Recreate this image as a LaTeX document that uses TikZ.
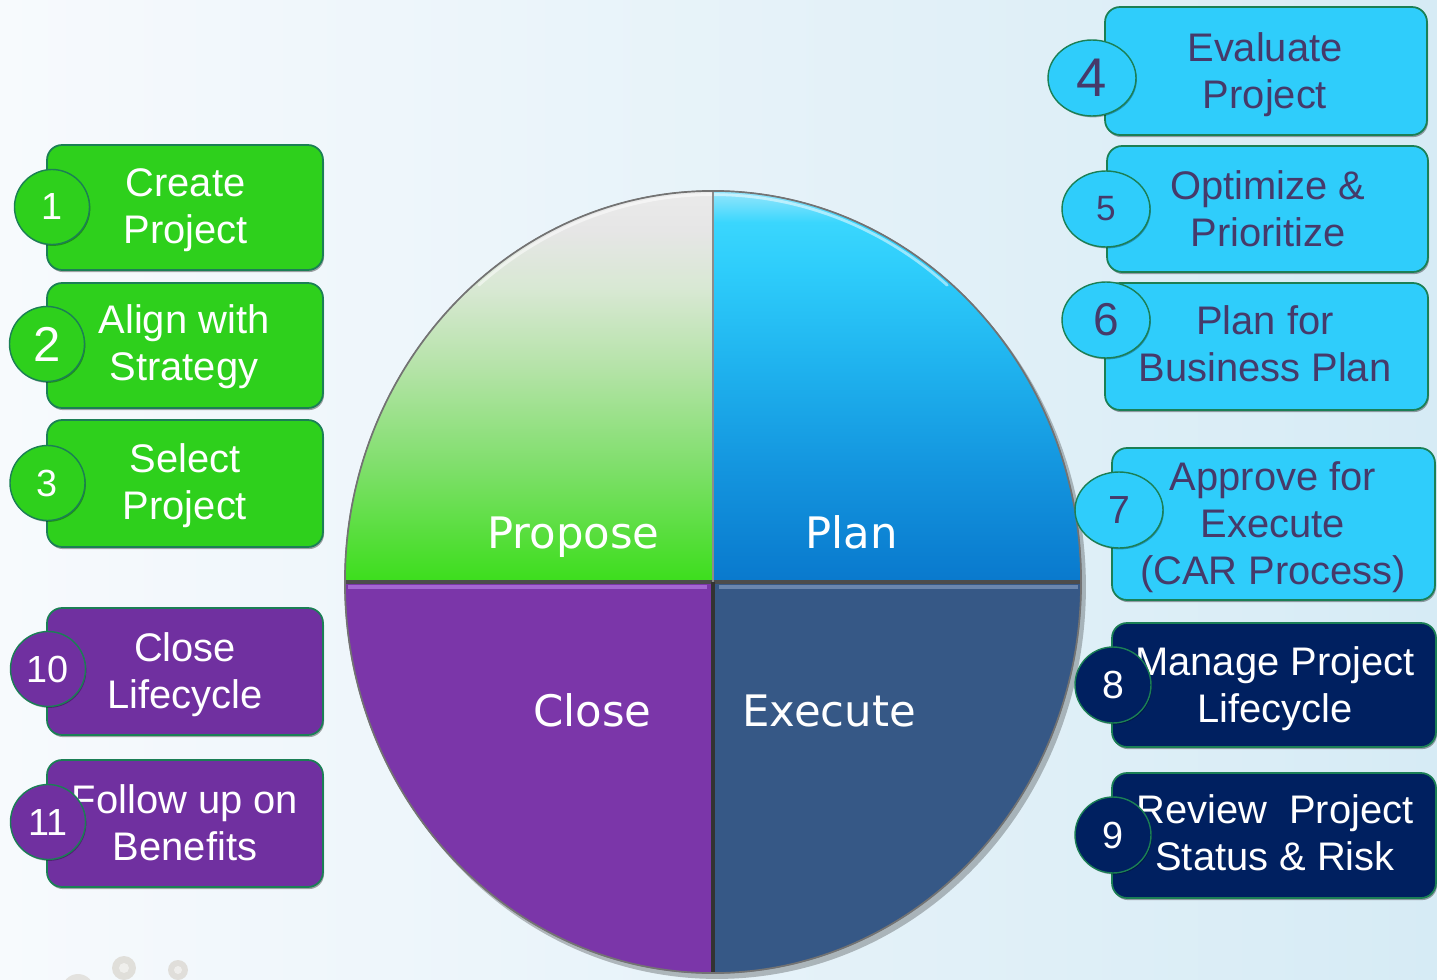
\documentclass[tikz,border=0pt]{standalone}
\usepackage{fontspec}
\setmainfont{Liberation Sans}
\newfontfamily\segfont{DejaVu Sans}
\usetikzlibrary{shapes.geometric,shadows}
\definecolor{bgL}{HTML}{F7FAFD}
\definecolor{bgM}{HTML}{EEF5FA}
\definecolor{bgR}{HTML}{D6EBF5}
\definecolor{gfill}{HTML}{2ED01C}
\definecolor{cfill}{HTML}{2FCDFB}
\definecolor{pfill}{HTML}{7030A0}
\definecolor{nfill}{HTML}{002060}
\definecolor{boxline}{HTML}{1B7F55}
\definecolor{ctxt}{HTML}{463A6A}
\definecolor{closeC}{HTML}{7B36A9}
\definecolor{closeL}{HTML}{A466D2}
\definecolor{execC}{HTML}{365886}
\definecolor{execL}{HTML}{6A86AE}
\definecolor{bubble}{HTML}{D8D4CC}
\pgfdeclareverticalshading{proposeshade}{100bp}{%
  color(0bp)=(rgb,255:red,60;green,222;blue,28);
  color(25bp)=(rgb,255:red,60;green,222;blue,28);
  color(40bp)=(rgb,255:red,128;green,223;blue,108);
  color(52.5bp)=(rgb,255:red,181;green,227;blue,168);
  color(62.5bp)=(rgb,255:red,216;green,232;blue,211);
  color(70bp)=(rgb,255:red,230;green,230;blue,230);
  color(75bp)=(rgb,255:red,234;green,234;blue,234);
  color(100bp)=(rgb,255:red,234;green,234;blue,234)}
\pgfdeclareverticalshading{planshade}{100bp}{%
  color(0bp)=(rgb,255:red,9;green,121;blue,205);
  color(25bp)=(rgb,255:red,9;green,121;blue,205);
  color(40bp)=(rgb,255:red,20;green,150;blue,223);
  color(52.5bp)=(rgb,255:red,31;green,178;blue,238);
  color(65bp)=(rgb,255:red,46;green,205;blue,251);
  color(71bp)=(rgb,255:red,58;green,214;blue,253);
  color(75bp)=(rgb,255:red,150;green,230;blue,252);
  color(100bp)=(rgb,255:red,150;green,230;blue,252)}
\newcommand{\numsz}[1]{\fontsize{#1}{#1}\selectfont}
\begin{document}
\begin{tikzpicture}[x=0.02cm,y=-0.02cm,
  boxbase/.style={draw=boxline, line width=1pt, rounded corners=0.3cm, inner sep=0pt,
    drop shadow={shadow xshift=0.6pt, shadow yshift=-1.2pt, opacity=0.35, fill=black}},
  gbox/.style={boxbase, fill=gfill},
  cbox/.style={boxbase, fill=cfill},
  pbox/.style={boxbase, fill=pfill},
  nbox/.style={boxbase, fill=nfill},
  wtxt/.style={font=\fontsize{22.7}{26.8}\selectfont, align=center, inner sep=0pt, text=white},
  ctext/.style={wtxt, text=ctxt},
  numbase/.style={draw=boxline, line width=0.8pt, inner sep=0pt,
    drop shadow={shadow xshift=0.5pt, shadow yshift=-0.8pt, opacity=0.3, fill=black}},
  lnum/.style={numbase, circle, minimum size=1.5cm, text=white},
  rnum/.style={numbase, ellipse, minimum width=1.76cm, minimum height=1.52cm, text=ctxt},
  nnum/.style={numbase, circle, minimum size=1.52cm, fill=nfill, text=white},
  seg/.style={font=\segfont\fontsize{24.7}{28}\selectfont, text=white, inner sep=0pt}
]
\useasboundingbox (0,0) rectangle (1437,980);
\shade[left color=bgL, middle color=bgM, right color=bgR] (0,0) rectangle (1437,980);

% decorative bubbles
\fill[bubble, opacity=0.7] (124,968) circle[radius=0.24cm];
\fill[bubble, opacity=0.7] (178,970) circle[radius=0.2cm];
\fill[bubble, opacity=0.6] (78,990) circle[radius=0.32cm];
\fill[white, opacity=0.5] (124,968) circle[radius=0.1cm];
\fill[white, opacity=0.5] (178,970) circle[radius=0.08cm];

% ---------- central wheel ----------
\coordinate (c) at (713,582);
\coordinate (cl) at (345,582);
\coordinate (ct) at (713,191);
\coordinate (cr) at (1081,582);
\coordinate (cb) at (713,973);
\fill[black, opacity=0.25] (717,587) ellipse[x radius=7.38cm, y radius=7.84cm];
\fill[black!55] (c) ellipse[x radius=7.38cm, y radius=7.84cm];
\shade[shading=proposeshade]
  (c) -- (cl) arc[start angle=180, end angle=90, x radius=7.36cm, y radius=7.82cm] -- cycle;
\shade[shading=planshade]
  (c) -- (ct) arc[start angle=90, end angle=0, x radius=7.36cm, y radius=7.82cm] -- cycle;
\fill[execC]
  (c) -- (cr) arc[start angle=0, end angle=-90, x radius=7.36cm, y radius=7.82cm] -- cycle;
\fill[closeC]
  (c) -- (cb) arc[start angle=270, end angle=180, x radius=7.36cm, y radius=7.82cm] -- cycle;
% bevel highlights
\draw[white, opacity=0.5, line width=1.6pt, line cap=round]
  (c) ++(130:7.29cm and 7.75cm) arc[start angle=130, end angle=50, x radius=7.29cm, y radius=7.75cm];
\draw[closeL, line width=2pt] (348,587) -- (707,587);
\draw[execL, line width=2pt] (719,587) -- (1078,587);
\draw[black!70, line width=2.5pt] (cl) -- (cr);
\draw[black!45, line width=1.6pt] (ct) -- (c);
\draw[black!80, line width=2pt] (c) -- (cb);
\draw[black!55, line width=0.8pt] (c) ellipse[x radius=7.36cm, y radius=7.82cm];

\node[seg, anchor=base east] (lprop) at (660,548) {Propose};
\node[seg, anchor=base west] (lplan) at (805,548) {Plan};
\node[seg, anchor=base east] (lclose) at (652,726) {Close};
\node[seg, anchor=base west] (lexec) at (742,726) {Execute};

% ---------- left boxes ----------
\node[gbox, minimum width=5.52cm, minimum height=2.5cm] (b1) at (185,207.5) {};
\node[wtxt] (t1) at (185.5,210) {Create\\Project};
\node[lnum, fill=gfill, font=\numsz{21.5}] (n1) at (52,207) {1};

\node[gbox, minimum width=5.52cm, minimum height=2.5cm] (b2) at (185,345.5) {};
\node[wtxt] (t2) at (184,347) {Align with\\Strategy};
\node[lnum, fill=gfill, font=\numsz{27.9}] (n2) at (47,344) {2};

\node[gbox, minimum width=5.52cm, minimum height=2.54cm] (b3) at (185,483.5) {};
\node[wtxt] (t3) at (185,485.5) {Select\\Project};
\node[lnum, fill=gfill, font=\numsz{21.5}] (n3) at (47.5,483) {3};

\node[pbox, minimum width=5.52cm, minimum height=2.54cm] (b10) at (185,671.5) {};
\node[wtxt] (t10) at (185,675) {Close\\Lifecycle};
\node[lnum, fill=pfill, font=\numsz{21.5}] (n10) at (48,669) {10};

\node[pbox, minimum width=5.52cm, minimum height=2.54cm] (b11) at (185,823.5) {};
\node[wtxt] (t11) at (185,822.5) {Follow up on\\Benefits};
\node[lnum, fill=pfill, font=\numsz{21.5}] (n11) at (48,822) {11};

% ---------- right boxes ----------
\node[cbox, minimum width=6.44cm, minimum height=2.56cm] (b4) at (1266,71) {};
\node[ctext] (t4) at (1265,75) {Evaluate\\Project};
\node[rnum, fill=cfill, font=\numsz{31}] (n4) at (1092,78) {4};

\node[cbox, minimum width=6.42cm, minimum height=2.52cm] (b5) at (1267.5,209) {};
\node[ctext] (t5) at (1268,209) {Optimize \&\\Prioritize};
\node[rnum, fill=cfill, font=\numsz{20}] (n5) at (1106,209) {5};

\node[cbox, minimum width=6.46cm, minimum height=2.54cm] (b6) at (1266.5,346.5) {};
\node[ctext] (t6) at (1265,343.5) {Plan for\\Business Plan};
\node[rnum, fill=cfill, font=\numsz{26.2}] (n6) at (1106,320) {6};

\node[cbox, minimum width=6.46cm, minimum height=3.04cm] (b7) at (1273.5,524) {};
\node[ctext] (t7) at (1273,527) {Approve for\\Execute\\(CAR Process)};
\node[rnum, fill=cfill, font=\numsz{22.3}] (n7) at (1119,510) {7};

\node[nbox, minimum width=6.48cm, minimum height=2.48cm] (b8) at (1274,685) {};
\node[wtxt] (t8) at (1275,688.5) {Manage Project\\Lifecycle};
\node[nnum, font=\numsz{22.3}] (n8) at (1113,685) {8};

\node[nbox, minimum width=6.48cm, minimum height=2.5cm] (b9) at (1274,835.5) {};
\node[wtxt] (t9) at (1275,832.5) {Review\ \ Project\\Status \& Risk};
\node[nnum, font=\numsz{21.5}] (n9) at (1113,835) {9};
\end{tikzpicture}
\end{document}
